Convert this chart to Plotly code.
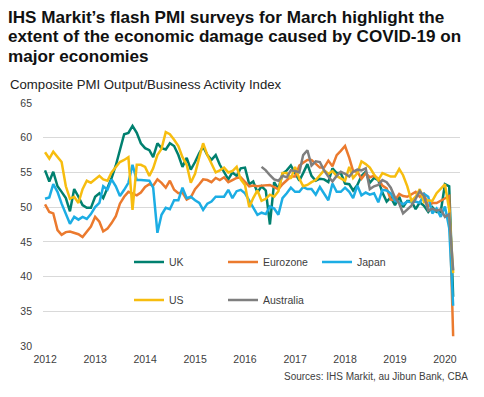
import plotly.graph_objects as go
import pandas as pd

months = pd.date_range("2012-01-01", periods=99, freq="MS")

uk = [55.3, 53.7, 55.1, 53.0, 52.2, 51.3, 49.4, 52.6, 51.5, 50.3, 49.9, 49.9,
      51.5, 52.0, 51.3, 52.8, 54.2, 56.0, 58.2, 60.5, 60.7, 61.7, 60.7, 59.2,
      58.5, 58.2, 57.2, 59.2, 58.5, 58.3, 59.2, 58.8, 57.5, 55.8, 57.1, 55.4,
      56.5, 57.8, 58.7, 57.5, 56.8, 57.5, 56.1, 55.0, 54.0, 55.0, 54.5, 55.6,
      55.7, 53.3, 53.7, 52.1, 53.0, 52.4, 47.5, 53.6, 52.6, 54.8, 55.3, 56.0,
      54.9, 53.8, 54.9, 56.2, 54.5, 53.8, 54.1, 54.0, 53.6, 55.6, 54.9, 54.9,
      53.4, 53.3, 52.4, 53.2, 54.5, 55.1, 53.5, 54.2, 53.9, 52.1, 50.8, 51.4,
      50.3, 51.5, 50.0, 50.9, 50.9, 49.7, 50.7, 50.2, 49.3, 50.0, 49.3, 49.3,
      53.3, 53.0, 37.1]

eurozone = [50.4, 49.3, 49.1, 46.7, 46.0, 46.4, 46.5, 46.3, 46.1, 45.7, 46.5, 47.2,
            48.6, 47.9, 46.5, 46.9, 47.7, 48.7, 50.5, 51.5, 52.2, 51.9, 51.7, 52.1,
            52.9, 53.3, 53.1, 54.0, 53.5, 52.8, 53.8, 52.5, 52.0, 52.1, 51.1, 51.4,
            52.6, 53.3, 54.0, 53.9, 53.6, 54.2, 53.9, 54.3, 53.6, 53.9, 54.2, 54.3,
            53.6, 53.0, 53.1, 53.0, 53.1, 53.1, 53.2, 52.9, 52.6, 53.3, 53.9, 54.4,
            54.4, 56.0, 56.4, 56.8, 56.8, 56.3, 55.7, 55.7, 56.7, 55.9, 57.5, 58.1,
            58.8, 57.1, 55.2, 55.1, 54.1, 54.9, 54.3, 54.5, 54.1, 53.1, 52.7, 51.1,
            51.0, 51.9, 51.6, 51.5, 51.8, 52.2, 51.5, 51.9, 50.1, 50.6, 50.6, 50.9,
            51.3, 51.6, 31.4]

japan = [51.2, 51.4, 53.3, 52.2, 50.5, 49.0, 47.6, 48.6, 48.2, 48.6, 48.3, 49.0,
         50.0, 50.6, 53.0, 52.5, 54.0, 53.0, 51.6, 52.5, 53.5, 56.1, 53.9, 53.9,
         53.9, 53.8, 52.8, 46.3, 48.9, 49.9, 49.7, 51.0, 51.0, 52.8, 51.3, 51.5,
         51.0, 50.6, 49.6, 50.5, 50.8, 51.5, 51.5, 51.5, 52.5, 51.3, 52.3, 52.5,
         52.0, 51.0, 50.0, 48.9, 49.2, 49.0, 50.1, 49.8, 48.9, 51.3, 52.0, 52.8,
         52.2, 52.2, 52.9, 52.6, 52.6, 51.8, 52.9, 51.9, 51.0, 53.4, 52.2, 52.2,
         52.8, 52.2, 51.3, 53.1, 51.7, 52.1, 51.8, 52.0, 50.7, 52.5, 52.4, 52.0,
         50.9, 50.7, 50.4, 50.8, 50.7, 50.8, 50.6, 51.9, 51.5, 49.1, 49.8, 48.6,
         50.1, 47.0, 35.8]

us = [57.9, 57.0, 58.0, 57.2, 56.5, 53.0, 51.2, 51.5, 50.6, 52.6, 53.8, 53.5,
      54.0, 54.5, 54.0, 53.8, 55.0, 55.8, 56.5, 56.8, 57.2, 49.6, 56.1, 56.1,
      55.8, 54.5, 55.6, 57.5, 58.4, 60.8, 60.5, 59.7, 58.8, 57.2, 56.1, 53.5,
      54.8, 57.2, 59.2, 57.5, 56.2, 55.0, 55.3, 55.7, 55.0, 55.2, 55.8, 54.0,
      53.2, 50.0, 51.3, 52.4, 50.9, 51.2, 51.8, 51.5, 52.3, 54.9, 54.9, 54.1,
      55.8, 54.1, 53.0, 53.2, 53.6, 53.9, 54.6, 55.3, 54.8, 55.2, 54.5, 54.1,
      53.8, 55.8, 54.2, 54.9, 56.6, 56.2, 55.7, 54.7, 53.9, 54.9, 54.7, 54.4,
      54.4, 55.5, 54.6, 53.0, 50.9, 51.5, 52.6, 50.7, 51.0, 50.9, 52.0, 52.7,
      53.3, 49.6, 40.5]

australia = [None] * 52 + [
      55.8, 55.3, 54.6, 54.0, 53.8, 54.5, 54.3, 55.3,
      55.2, 55.0, 57.5, 58.2, 56.0, 56.6, 56.5, 55.3, 54.4, 53.7, 54.5, 55.1,
      54.8, 54.4, 55.1, 55.4, 55.3, 55.6, 52.6, 53.0, 53.2, 53.9, 53.6, 52.8,
      51.4, 50.5, 49.1, 49.6, 50.2, 51.2, 52.3, 51.6, 49.5, 49.8, 49.5, 49.7,
      48.6, 49.0, 40.9]

series_names = ["UK", "Eurozone", "Japan", "US", "Australia"]
series_values = [uk, eurozone, japan, us, australia]
colors = ["#00806F", "#EB7A2E", "#1CADE4", "#F7BD0F", "#7F7F7F"]
legends = ["legend", "legend", "legend", "legend2", "legend2"]

title_lines = ["IHS Markit’s flash PMI surveys for March highlight the",
               "extent of the economic damage caused by COVID-19 on",
               "major economies"]
subtitle = "Composite PMI Output/Business Activity Index"
source = "Sources: IHS Markit, au Jibun Bank, CBA"

FONT = "Arial, Liberation Sans, sans-serif"
W, H = 484, 397
L, R, T, B = 43, 24, 103, 51
PW, PH = W - L - R, H - T - B


def px(x):
    return (x - L) / PW


def py(y):
    return (H - B - y) / PH


fig = go.Figure()
for name, vals, col, lg in zip(series_names, series_values, colors, legends):
    fig.add_trace(go.Scatter(x=months, y=vals, name=name, mode="lines",
                             line=dict(color=col, width=2.5),
                             legend=lg, connectgaps=False))

annotations = []
for k, line in enumerate(title_lines):
    annotations.append(dict(text="<b>" + line + "</b>", xref="paper", yref="paper",
                            x=px(6), y=py(17 + 20 * k), xanchor="left",
                            yanchor="middle", showarrow=False,
                            font=dict(family=FONT, size=17.1, color="#111111")))
annotations.append(dict(text=subtitle, xref="paper", yref="paper",
                        x=px(8), y=py(84), xanchor="left", yanchor="middle",
                        showarrow=False,
                        font=dict(family=FONT, size=13.2, color="#222222")))
annotations.append(dict(text=source, xref="paper", yref="paper",
                        x=px(470), y=py(376), xanchor="right", yanchor="middle",
                        showarrow=False,
                        font=dict(family=FONT, size=10, color="#404040")))

fig.update_layout(
    width=W, height=H,
    margin=dict(l=L, r=R, t=T, b=B),
    paper_bgcolor="white", plot_bgcolor="white",
    font=dict(family=FONT, size=10, color="#404040"),
    xaxis=dict(range=["2011-12-17", "2020-04-20"], type="date",
               dtick="M12", tick0="2012-01-01", tickformat="%Y",
               showgrid=False, zeroline=False, showline=False, ticks="",
               ticklabelstandoff=5,
               tickfont=dict(size=10.5, color="#404040")),
    yaxis=dict(range=[30, 65], dtick=5, tick0=30, showgrid=True,
               gridcolor="#D9D9D9", gridwidth=1, zeroline=False,
               showline=False, ticks="", ticklabelstandoff=10,
               tickfont=dict(size=10.5, color="#404040")),
    legend=dict(orientation="h", x=px(129), xanchor="left", y=py(262),
                yanchor="middle", entrywidth=49, entrywidthmode="pixels",
                font=dict(size=10.5, color="#404040"), bgcolor="rgba(0,0,0,0)",
                traceorder="normal"),
    legend2=dict(orientation="h", x=px(129), xanchor="left", y=py(300),
                 yanchor="middle", entrywidth=49, entrywidthmode="pixels",
                 font=dict(size=10.5, color="#404040"), bgcolor="rgba(0,0,0,0)",
                 traceorder="normal"),
    annotations=annotations,
)

fig.write_html("out.html",
               config={"displayModeBar": False},
               post_script="document.body.style.margin='0';")
